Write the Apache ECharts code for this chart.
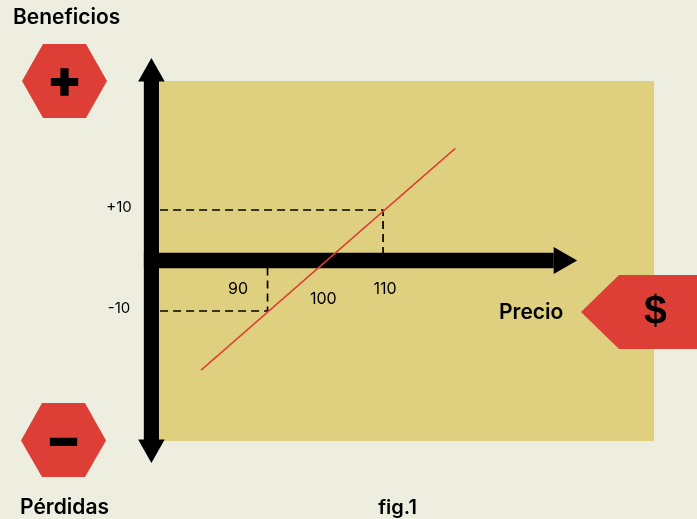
<!DOCTYPE html>
<html lang="es">
<head>
    <meta charset="UTF-8">
    <title>fig.1</title>
    <script src="https://cdn.jsdelivr.net/npm/echarts@6/dist/echarts.min.js"></script>
    <style>
        html, body { margin: 0; padding: 0; background: #eeeee0; }
        #container { width: 697px; height: 519px; }
    </style>
</head>
<body>
<div id="container"></div>
<script>
    // profit line
    const linePrice = [78.5, 122.5];
    const lineProfit = [-21.7, 22.2];
    // dashed guides
    const guideUpPrice = [71.4, 110, 110];
    const guideUpProfit = [10, 10, 0];
    const guideDownPrice = [71.4, 90, 90];
    const guideDownProfit = [-10, -10, 0];
    // tick labels
    const priceTicks = [90, 100, 110];
    const priceTickLabels = ['90', '100', '110'];
    const profitTicks = [10, -10];
    const profitTickLabels = ['+10', '-10'];

    const FONT = 'Inter';
    const BLACK = '#000000';
    const RED = '#dd3e36';
    const X_MIN = 71.385, X_MAX = 156.9, Y_MIN = -35.74, Y_MAX = 35.54;

    const zip = (a, b) => a.map((v, i) => [v, b[i]]);

    // label offsets from the tick position, the labels do not sit on their ticks
    const priceLabelOffset = [[-29.5, 29], [-2, 39], [2, 29]];
    const profitLabelOffset = [[-41, -2.5], [-41, -3]];

    function label(x, y, text, size, weight, align, font) {
        return {
            type: 'text', x: x, y: y, silent: true,
            style: {text: text, fill: BLACK, font: weight + ' ' + size + 'px ' + (font || FONT), textAlign: align || 'left', textVerticalAlign: 'middle'}
        };
    }

    const myChart = echarts.init(document.getElementById('container'), null, {renderer: 'canvas'});
    const option = {
        animation: false,
        backgroundColor: '#eeeee0',
        grid: {left: 160, top: 81, width: 494, height: 360, show: true, backgroundColor: '#ded07f', borderWidth: 0},
        xAxis: {type: 'value', min: X_MIN, max: X_MAX, show: false},
        yAxis: {type: 'value', min: Y_MIN, max: Y_MAX, show: false},
        graphic: [
            // hexagons and the price tag
            {type: 'polygon', shape: {points: [[43, 44], [86, 44], [107, 81], [86, 118], [43, 118], [22, 81]]}, style: {fill: RED}, silent: true},
            {type: 'polygon', shape: {points: [[42, 403], [85, 403], [106, 440.5], [85, 477], [42, 477], [21, 440.5]]}, style: {fill: RED}, silent: true},
            {type: 'polygon', shape: {points: [[697, 275], [619, 275], [581, 312], [619, 349], [697, 349]]}, style: {fill: RED}, silent: true},
            label(64.5, 81, '+', 52, 900, 'center'),
            label(63.5, 441, '−', 52, 900, 'center'),
            label(655.5, 313, '$', 41, 700, 'center', 'Liberation Sans'),
            label(13, 18, 'Beneficios', 21, 600),
            label(20, 508, 'Pérdidas', 21, 600),
            label(397.5, 508, 'fig.1', 20, 600, 'center'),
            label(499, 313, 'Precio', 21, 600)
        ],
        series: [
            {
                type: 'line', data: zip(guideUpPrice, guideUpProfit), symbol: 'none', silent: true,
                lineStyle: {color: '#000000', width: 1.7, type: [8, 5]}
            },
            {
                type: 'line', data: zip(guideDownPrice, guideDownProfit), symbol: 'none', silent: true,
                lineStyle: {color: '#000000', width: 1.7, type: [8, 5]}
            },
            {
                // the two thick arrows, they run past the grid on the y side
                type: 'custom', clip: false, silent: true, data: [0],
                coordinateSystem: 'cartesian2d',
                renderItem: function (params, api) {
                    const left = api.coord([69.9, 0]);
                    const tipX = api.coord([143.6, 0]);
                    const top = api.coord([69.9, 40.1]);
                    const bottom = api.coord([69.9, -40.1]);
                    const s = {fill: BLACK};
                    const poly = (pts) => ({type: 'polygon', shape: {points: pts}, style: s});
                    return {
                        type: 'group',
                        children: [
                            {type: 'rect', shape: {x: left[0] - 7.5, y: left[1] - 7.7, width: tipX[0] - left[0] - 16, height: 15.4}, style: s},
                            poly([[tipX[0], tipX[1]], [tipX[0] - 23.5, tipX[1] - 13.5], [tipX[0] - 23.5, tipX[1] + 13.5]]),
                            {type: 'rect', shape: {x: top[0] - 7.6, y: top[1] + 20, width: 15.3, height: bottom[1] - top[1] - 40}, style: s},
                            poly([[top[0], top[1]], [top[0] - 13.3, top[1] + 23.5], [top[0] + 13.3, top[1] + 23.5]]),
                            poly([[bottom[0], bottom[1]], [bottom[0] - 13.3, bottom[1] - 23.5], [bottom[0] + 13.3, bottom[1] - 23.5]])
                        ]
                    };
                }
            },
            {
                type: 'line', data: zip(linePrice, lineProfit), symbol: 'none', silent: true,
                lineStyle: {color: RED, width: 1.5}
            },
            {
                type: 'custom', clip: false, silent: true, coordinateSystem: 'cartesian2d',
                data: priceTicks.map((p) => [p, 0]),
                renderItem: function (params, api) {
                    const c = api.coord([api.value(0), 0]);
                    const o = priceLabelOffset[params.dataIndex];
                    return {type: 'text', x: c[0] + o[0], y: c[1] + o[1], style: {text: priceTickLabels[params.dataIndex], fill: BLACK, font: '400 16px ' + FONT, textAlign: 'center', textVerticalAlign: 'middle'}};
                }
            },
            {
                type: 'custom', clip: false, silent: true, coordinateSystem: 'cartesian2d',
                data: profitTicks.map((p) => [X_MIN, p]),
                renderItem: function (params, api) {
                    const c = api.coord([api.value(0), api.value(1)]);
                    const o = profitLabelOffset[params.dataIndex];
                    return {type: 'text', x: c[0] + o[0], y: c[1] + o[1], style: {text: profitTickLabels[params.dataIndex], fill: BLACK, font: '400 15px ' + FONT, textAlign: 'center', textVerticalAlign: 'middle'}};
                }
            }
        ]
    };
    myChart.setOption(option);
</script>
</body>
</html>
